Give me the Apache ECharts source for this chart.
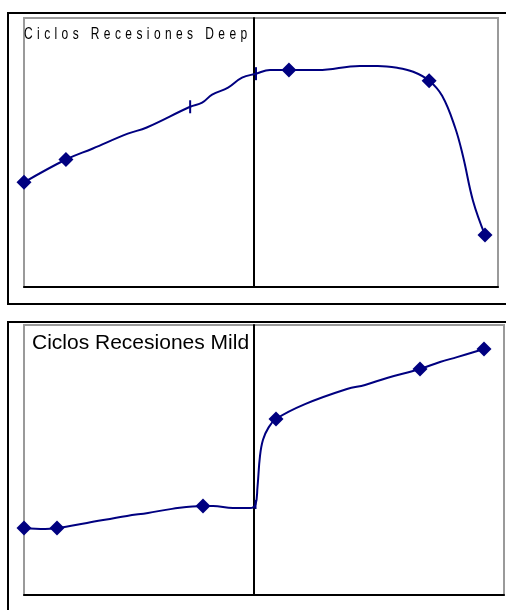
<!DOCTYPE html>
<html>
<head>
<meta charset="utf-8">
<script src="https://cdn.jsdelivr.net/npm/echarts@6/dist/echarts.min.js"></script>
<style>html,body{margin:0;padding:0;background:#fff;}#c{width:506px;height:610px;}</style>
</head>
<body>
<div id="c"></div>
<script>
// letter spacing for the spaced title font
(function(){
  var proto = CanvasRenderingContext2D.prototype;
  var d = Object.getOwnPropertyDescriptor(proto, 'font');
  if (!d) return;
  Object.defineProperty(proto, 'font', {
    configurable: true, enumerable: true,
    get: function(){ return d.get.call(this); },
    set: function(v){
      d.set.call(this, v);
      if ('letterSpacing' in this) { this.letterSpacing = /Spaced/.test(v) ? '4.4px' : '0px'; }
    }
  });
})();

var titleDeep = 'Ciclos Recesiones Deep';
var titleMild = 'Ciclos Recesiones Mild';

// marker: d = diamond, t = tick, '' = none
var deepX = [-46, -37.6, -32.2, -25.2, -21.4, -12.7, -10.3, -8.3, -5.1, -2.3, 0.5, 3.3, 7.1, 12.9, 21.3, 24.9, 28.8, 32, 35.2, 37.8, 40.4, 42, 44, 46.4];
var deepY = [38.9, 47.4, 51.5, 57.0, 59.3, 67.0, 68.5, 71.5, 74.1, 77.8, 79.3, 80.7, 80.7, 80.7, 82.2, 82.2, 81.5, 80, 76.7, 71.1, 59.3, 48.5, 32, 19.3];
var deepMark = ['d','d','','','','t','','','','','t','','d','','','','','','d','','','','','d'];

var mildX = [-46, -41.8, -39.4, -33.4, -25.4, -21.2, -16.4, -10.2, -8.2, -4.2, -0.8, 0.3, 0.7, 1.2, 1.8, 2.9, 4.4, 10.2, 18.6, 22.2, 26.6, 33.2, 37.2, 40.6, 46];
var mildY = [24.8, 24.4, 24.8, 26.7, 29.3, 30.4, 31.9, 33, 33, 32.2, 32.2, 33.5, 40, 51.5, 57.5, 62, 65.2, 70.7, 76.3, 77.8, 80.4, 83.7, 86.3, 88.1, 91.1];
var mildMark = ['d','','d','','','','','d','','','','t','','','','','d','','','','','d','','','d'];

function build(xs, ys, marks, tickSize) {
  return xs.map(function(x, i){
    var m = marks[i];
    var item = { value: [x, ys[i]] };
    if (m === 'd') { item.symbol = 'diamond'; item.symbolSize = 15; }
    else if (m === 't') { item.symbol = 'rect'; item.symbolSize = tickSize; }
    else { item.symbol = 'none'; item.symbolSize = 0; }
    return item;
  });
}

var navy = '#000080';
var chart = echarts.init(document.getElementById('c'), null, {renderer: 'canvas'});
var axisLineStyle = {show: true, onZero: true, lineStyle: {color: '#000', width: 2}};
chart.setOption({
  animation: false,
  backgroundColor: '#fff',
  grid: [
    {left: 24, top: 18, right: 8, bottom: 323, show: true, borderColor: '#9a9a9a', borderWidth: 2, backgroundColor: '#fff'},
    {left: 24, top: 325, right: 2, bottom: 15, show: true, borderColor: '#9a9a9a', borderWidth: 2, backgroundColor: '#fff'}
  ],
  xAxis: [
    {type: 'value', gridIndex: 0, min: -46, max: 49, axisLine: {show: true, onZero: false, lineStyle: {color: '#000', width: 2}}, axisTick: {show: false}, axisLabel: {show: false}, splitLine: {show: false}},
    {type: 'value', gridIndex: 1, min: -46, max: 50, axisLine: {show: true, onZero: false, lineStyle: {color: '#000', width: 2}}, axisTick: {show: false}, axisLabel: {show: false}, splitLine: {show: false}}
  ],
  yAxis: [
    {type: 'value', gridIndex: 0, min: 0, max: 100, axisLine: axisLineStyle, axisTick: {show: false}, axisLabel: {show: false}, splitLine: {show: false}},
    {type: 'value', gridIndex: 1, min: 0, max: 100, axisLine: axisLineStyle, axisTick: {show: false}, axisLabel: {show: false}, splitLine: {show: false}}
  ],
  graphic: [
    {type: 'rect', z: 100, shape: {x: 8, y: 13, width: 520, height: 291}, style: {fill: 'none', stroke: '#000', lineWidth: 2}},
    {type: 'rect', z: 100, shape: {x: 8, y: 322, width: 520, height: 320}, style: {fill: 'none', stroke: '#000', lineWidth: 2}},
    {type: 'text', z: 100, x: 24, y: 34, scaleY: 1.4, style: {text: titleDeep, fill: '#000', font: '12px "Liberation Sans", Arial, Spaced', textAlign: 'left', textVerticalAlign: 'middle'}},
    {type: 'text', z: 100, x: 32, y: 343, style: {text: titleMild, fill: '#000', font: '21px "Liberation Sans", Arial', textAlign: 'left', textVerticalAlign: 'middle'}}
  ],
  series: [
    {type: 'line', xAxisIndex: 0, yAxisIndex: 0, data: build(deepX, deepY, deepMark, [2, 13]), smooth: 0.4, lineStyle: {color: navy, width: 2}, itemStyle: {color: navy}, z: 5},
    {type: 'line', xAxisIndex: 1, yAxisIndex: 1, data: build(mildX, mildY, mildMark, [2, 9]), smooth: 0.4, lineStyle: {color: navy, width: 2}, itemStyle: {color: navy}, z: 5}
  ]
});
</script>
</body>
</html>
